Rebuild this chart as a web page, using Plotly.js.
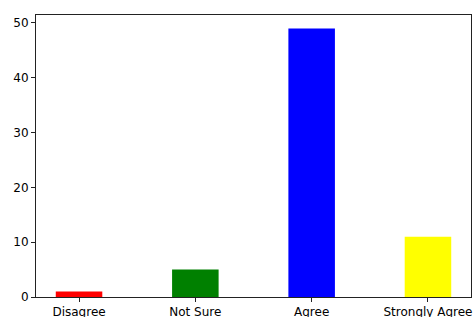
<!DOCTYPE html>
<html>
<head>
<script src="https://cdn.plot.ly/plotly-3.0.1.min.js"></script>
<style>html,body{margin:0;padding:0;background:#fff;}#chart{width:475px;height:317px;}</style>
</head>
<body>
<div id="chart"></div>
<script>
const categories = ["Disagree", "Not Sure", "Agree", "Strongly Agree"];
const counts = [1, 5, 49, 11];
const barColors = ["red", "green", "blue", "yellow"];

const trace = {
  type: "bar",
  x: categories,
  y: counts,
  width: 0.4,
  marker: {color: barColors, line: {width: 0}},
  hoverinfo: "skip"
};

const axisCommon = {
  showline: true,
  linecolor: "#222",
  linewidth: 1,
  mirror: true,
  ticks: "outside",
  ticklen: 4,
  tickwidth: 1,
  tickcolor: "#222",
  showgrid: false,
  zeroline: false,
  tickfont: {family: "DejaVu Sans", size: 12, color: "#000"}
};

const layout = {
  width: 475,
  height: 317,
  margin: {l: 36, r: 4, t: 15, b: 20},
  paper_bgcolor: "#fff",
  plot_bgcolor: "#fff",
  showlegend: false,
  xaxis: Object.assign({}, axisCommon, {range: [-0.37, 3.37], type: "category", ticklabelstandoff: 0}),
  yaxis: Object.assign({}, axisCommon, {range: [0, 51.45], tickvals: [0, 10, 20, 30, 40, 50]})
};

Plotly.newPlot("chart", [trace], layout, {staticPlot: true, displayModeBar: false});
</script>
</body>
</html>
